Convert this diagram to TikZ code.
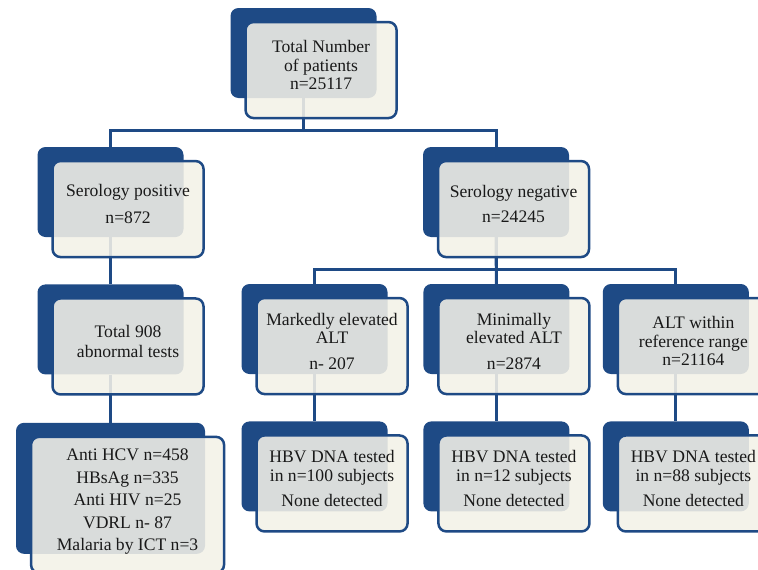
\documentclass[tikz,border=0pt]{standalone}
\usepackage{fontspec}
\setmainfont{Liberation Serif}
\usetikzlibrary{positioning}
\definecolor{boxblue}{RGB}{30,74,133}
\definecolor{boxcream}{RGB}{243,241,231}
\definecolor{inktext}{RGB}{25,25,25}

\begin{document}
\begin{tikzpicture}[x=1pt, y=-1pt,
    back/.style={draw=none, fill=boxblue, rounded corners=8pt, minimum width=146pt, minimum height=90pt, inner sep=0pt},
    front/.style={draw=boxblue, line width=2.5pt, fill=boxcream, fill opacity=0.88, text opacity=1, text=inktext, rounded corners=8pt, minimum width=151pt, minimum height=96pt, inner sep=0pt, align=center, text depth=10pt, font=\fontsize{17.6}{18.6}\selectfont},
    link/.style={draw=boxblue, line width=3pt}]
    \useasboundingbox (0,0) rectangle (758,570);
    \clip (0,0) rectangle (758,570);

    % dark boxes behind
    \node (Total) [back] at (303.5,53) {};
    \node (SeroPos) [back] at (110.5,192) {};
    \node (SeroNeg) [back] at (496,192) {};
    \node (Abnormal) [back, below=47pt of SeroPos] {};
    \node (Tests) [back, minimum width=189pt, minimum height=131pt, below=48pt of Abnormal] {};
    \node (Marked) [back] at (314.5,329) {};
    \node (Minimal) [back, right=35.5pt of Marked] {};
    \node (Normal) [back, right=33pt of Minimal] {};
    \node (DnaA) [back, below=47pt of Marked] {};
    \node (DnaB) [back, below=47pt of Minimal] {};
    \node (DnaC) [back, below=47pt of Normal] {};

    % connectors
    \draw[link] (Total.south) -- ++(0,32) -| (SeroPos.north);
    \draw[link] (Total.south) -- ++(0,32) -| (SeroNeg.north);
    \draw[link] (SeroPos.south) -- (Abnormal.north);
    \draw[link] (Abnormal.south) -- (Tests.north);
    \draw[link] (SeroNeg.south) -- ++(0,32) -| (Marked.north);
    \draw[link] (SeroNeg.south) -- ++(0,32) -| (Normal.north);
    \draw[link] (SeroNeg.south) -- (Minimal.north);
    \draw[link] (Marked.south) -- (DnaA.north);
    \draw[link] (Minimal.south) -- (DnaB.north);
    \draw[link] (Normal.south) -- (DnaC.north);

    % light boxes in front
    \node (TotalF) [front, below right=13pt and 14pt of Total.north west] {Total Number\\of patients\\n=25117};
    \node (SeroPosF) [front, below right=13pt and 14pt of SeroPos.north west] {Serology positive\\[9pt]n=872};
    \node (SeroNegF) [front, below right=13pt and 14pt of SeroNeg.north west] {Serology negative\\[6pt]n=24245};
    \node (AbnormalF) [front, below right=13pt and 14pt of Abnormal.north west] {Total 908\\[1pt]abnormal tests};
    \node (TestsF) [front, minimum width=193pt, minimum height=136pt, below right=13pt and 14pt of Tests.north west] {Anti HCV n=458\\[4pt]HBsAg n=335\\[4pt]Anti HIV n=25\\[4pt]VDRL n- 87\\[4pt]Malaria by ICT n=3};
    \node (MarkedF) [front, below right=13pt and 14pt of Marked.north west] {Markedly elevated\\ALT\\[7pt]n- 207};
    \node (MinimalF) [front, below right=13pt and 14pt of Minimal.north west] {Minimally\\elevated ALT\\[7pt]n=2874};
    \node (NormalF) [front, below right=13pt and 14pt of Normal.north west] {ALT within\\reference range\\n=21164};
    \node (DnaAF) [front, below right=13pt and 14pt of DnaA.north west] {HBV DNA tested\\in n=100 subjects\\[7pt]None detected};
    \node (DnaBF) [front, below right=13pt and 14pt of DnaB.north west] {HBV DNA tested\\in n=12 subjects\\[7pt]None detected};
    \node (DnaCF) [front, below right=13pt and 14pt of DnaC.north west] {HBV DNA tested\\in n=88 subjects\\[7pt]None detected};
\end{tikzpicture}
\end{document}
